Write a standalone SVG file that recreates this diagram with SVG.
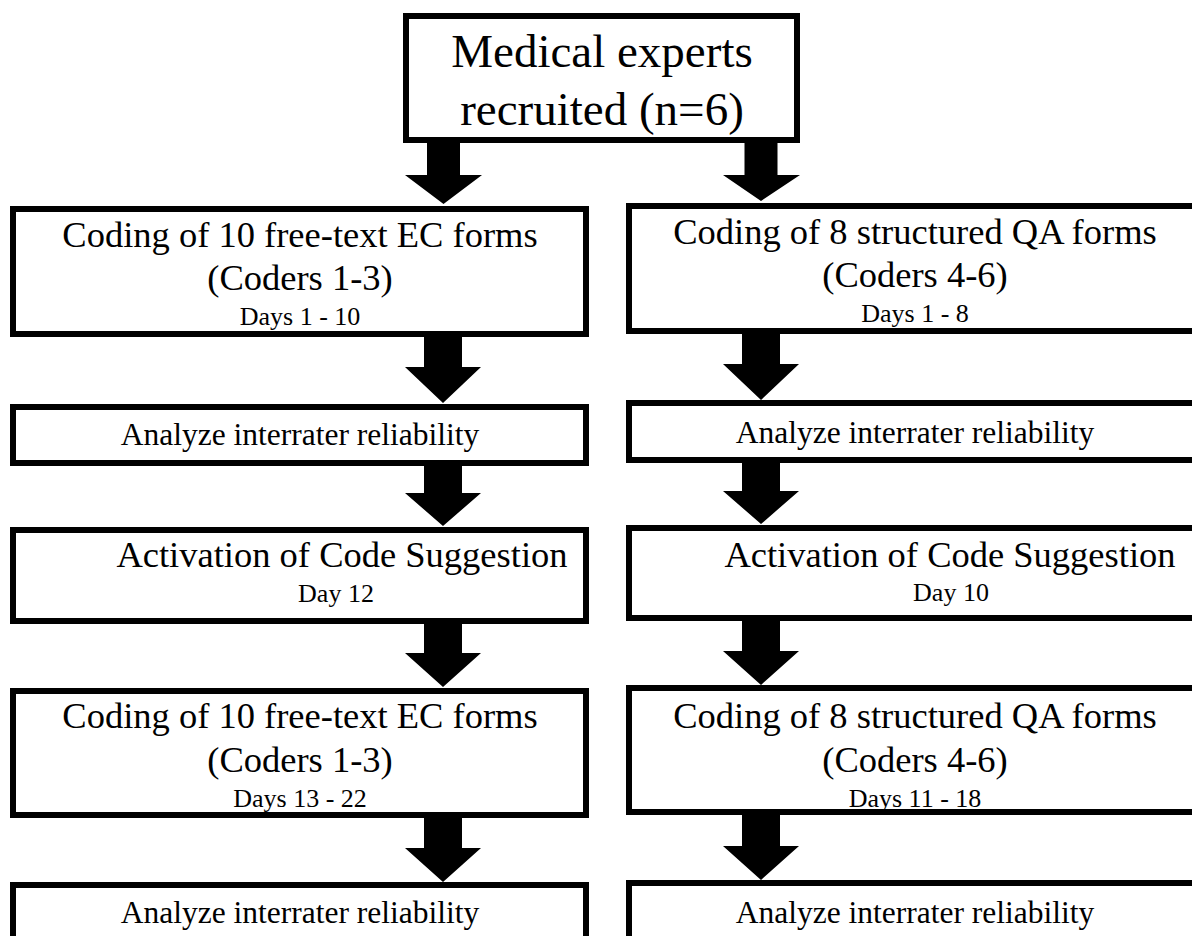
<svg xmlns="http://www.w3.org/2000/svg" width="1192" height="936" viewBox="0 0 1192 936">
<style>
.box{fill:#fff;stroke:#000;stroke-width:6}
.arr{fill:#000}
text{font-family:"Liberation Serif","Times New Roman",serif;fill:#000;text-anchor:middle}
.big{font-size:47px}
.t{font-size:36.5px}
.a{font-size:31.5px}
.s{font-size:26px}
</style>
<rect width="1192" height="936" fill="#fff"/>
<g id="connectors">
<polygon class="arr" points="427,140 460,140 460,175 482,175 443.5,204 405,175 427,175"/>
<polygon class="arr" points="744.5,140 777.5,140 777.5,175 800,175 761,201 723,175 744.5,175"/>
<polygon class="arr" points="424,335 462,335 462,367 481,367 443,403 405,367 424,367"/>
<polygon class="arr" points="742,332 780,332 780,364 799,364 761,400 723,364 742,364"/>
<polygon class="arr" points="424,463 462,463 462,493 481,493 443,526 405,493 424,493"/>
<polygon class="arr" points="742,460 780,460 780,491 799,491 761,524 723,491 742,491"/>
<polygon class="arr" points="424,618 462,618 462,653 481,653 443,687 405,653 424,653"/>
<polygon class="arr" points="742,616 780,616 780,651 799,651 761,685 723,651 742,651"/>
<polygon class="arr" points="424,816 462,816 462,848 481,848 443,882 405,848 424,848"/>
<polygon class="arr" points="742,814 780,814 780,846 799,846 761,880 723,846 742,846"/>
</g>
<g id="top">
<rect class="box" x="406" y="16" width="391" height="124"/>
<text class="big" x="602" y="67">Medical experts</text>
<text class="big" x="602" y="125">recruited (n=6)</text>
</g>
<g id="l1">
<rect class="box" x="13" y="209" width="573" height="125"/>
<text class="t" x="300" y="247">Coding of 10 free-text EC forms</text>
<text class="t" x="300" y="290">(Coders 1-3)</text>
<text class="s" x="300" y="325">Days 1 - 10</text>
</g>
<g id="r1">
<rect class="box" x="629" y="206" width="572" height="125"/>
<text class="t" x="915" y="244">Coding of 8 structured QA forms</text>
<text class="t" x="915" y="287">(Coders 4-6)</text>
<text class="s" x="915" y="322">Days 1 - 8</text>
</g>
<g id="l2">
<rect class="box" x="13" y="407" width="573" height="56"/>
<text class="a" x="300" y="445">Analyze interrater reliability</text>
</g>
<g id="r2">
<rect class="box" x="629" y="403" width="572" height="57"/>
<text class="a" x="915" y="443">Analyze interrater reliability</text>
</g>
<g id="l3">
<rect class="box" x="13" y="530" width="573" height="91"/>
<text class="t" x="342" y="567">Activation of Code Suggestion</text>
<text class="s" x="336" y="602">Day 12</text>
</g>
<g id="r3">
<rect class="box" x="629" y="528" width="572" height="90"/>
<text class="t" x="950" y="567">Activation of Code Suggestion</text>
<text class="s" x="951" y="601">Day 10</text>
</g>
<g id="l4">
<rect class="box" x="13" y="691" width="573" height="124"/>
<text class="t" x="300" y="728">Coding of 10 free-text EC forms</text>
<text class="t" x="300" y="772">(Coders 1-3)</text>
<text class="s" x="300" y="807">Days 13 - 22</text>
</g>
<g id="r4">
<rect class="box" x="629" y="688" width="572" height="124"/>
<text class="t" x="915" y="728">Coding of 8 structured QA forms</text>
<text class="t" x="915" y="772">(Coders 4-6)</text>
<text class="s" x="915" y="807">Days 11 - 18</text>
</g>
<g id="l5">
<rect class="box" x="13" y="885" width="573" height="80"/>
<text class="a" x="300" y="923">Analyze interrater reliability</text>
</g>
<g id="r5">
<rect class="box" x="629" y="883" width="572" height="80"/>
<text class="a" x="915" y="923">Analyze interrater reliability</text>
</g>
</svg>
